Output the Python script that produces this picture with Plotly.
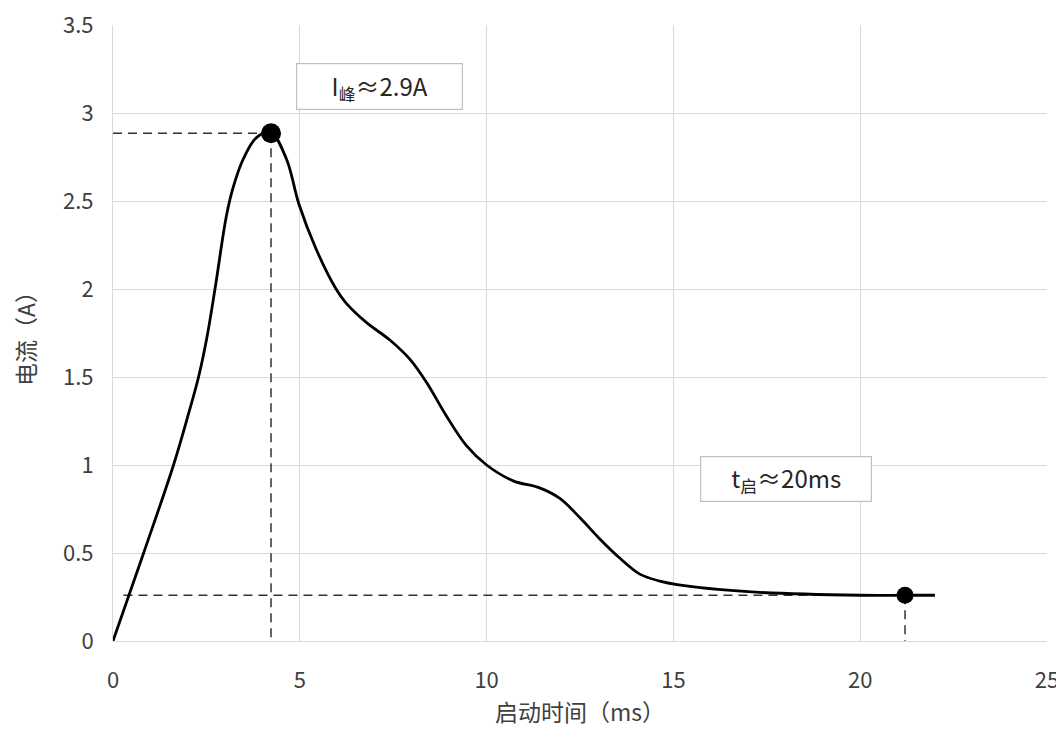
import plotly.graph_objects as go

# Data
time_ms = [0, 0.82, 1.62, 2.02, 2.29, 2.51, 2.73, 3.04, 3.22, 3.49, 3.84, 4.22,
           4.64, 4.98, 5.43, 5.97, 6.24, 6.78, 7.41, 7.95, 8.39, 8.92, 9.46, 10.0,
           10.71, 11.42, 11.96, 12.5, 13.03, 13.57, 14.1, 14.64, 15.1, 17.0, 20.0, 21.2, 22.0]
current_a = [0, 0.5, 1.0, 1.29, 1.5, 1.72, 2.0, 2.42, 2.58, 2.74, 2.86, 2.89,
             2.74, 2.48, 2.23, 2.0, 1.92, 1.81, 1.71, 1.60, 1.47, 1.28, 1.11, 1.0,
             0.91, 0.87, 0.81, 0.70, 0.58, 0.47, 0.38, 0.34, 0.32, 0.28, 0.26, 0.26, 0.26]

peak_t, peak_i = 4.23, 2.885
end_t, end_i = 21.2, 0.26
guide_start = 0.28

x_ticks = [0, 5, 10, 15, 20, 25]
y_ticks = [0, 0.5, 1, 1.5, 2, 2.5, 3, 3.5]
y_tick_text = ["0", "0.5", "1", "1.5", "2", "2.5", "3", "3.5"]

font_cjk = "Noto Sans CJK SC"

fig = go.Figure()

dash = dict(color="#333333", width=1.5, dash="9px,6px")
# guide lines
fig.add_trace(go.Scatter(x=[0, peak_t], y=[peak_i, peak_i], mode="lines", line=dash, hoverinfo="skip"))
fig.add_trace(go.Scatter(x=[peak_t, peak_t], y=[peak_i, 0], mode="lines", line=dash, hoverinfo="skip"))
fig.add_trace(go.Scatter(x=[guide_start, end_t], y=[end_i, end_i], mode="lines", line=dash, hoverinfo="skip"))
fig.add_trace(go.Scatter(x=[end_t, end_t], y=[end_i, 0], mode="lines", line=dash, hoverinfo="skip"))

# curve
fig.add_trace(go.Scatter(x=time_ms, y=current_a, mode="lines",
                         line=dict(color="black", width=2.8, shape="spline", smoothing=1.0)))

# markers
fig.add_trace(go.Scatter(x=[peak_t], y=[peak_i], mode="markers",
                         marker=dict(color="black", size=20)))
fig.add_trace(go.Scatter(x=[end_t], y=[end_i], mode="markers",
                         marker=dict(color="black", size=17)))

fig.add_annotation(x=7.13, y=3.15, text="I<sub>峰</sub>≈2.9A", showarrow=False,
                   font=dict(family=font_cjk, size=24, color="#262626"),
                   bordercolor="#bfbfbf", borderwidth=1.2, borderpad=7, bgcolor="white",
                   width=151, height=31)
fig.add_annotation(x=18.01, y=0.92, text="t<sub>启</sub>≈20ms", showarrow=False,
                   font=dict(family=font_cjk, size=24, color="#262626"),
                   bordercolor="#bfbfbf", borderwidth=1.2, borderpad=7, bgcolor="white",
                   width=156, height=30)

fig.update_layout(
    width=1056, height=743,
    margin=dict(l=105, r=17, t=17, b=110),
    plot_bgcolor="white", paper_bgcolor="white",
    showlegend=False,
    font=dict(family=font_cjk, color="#404040"),
    xaxis=dict(range=[0, 25], tickvals=x_ticks, showgrid=True, gridcolor="#d9d9d9",
               gridwidth=1, zeroline=False, showline=True, linecolor="#d9d9d9",
               mirror=False, ticks="", ticklabelstandoff=20, automargin=False,
               ticklabeloverflow="allow",
               tickfont=dict(size=22, color="#404040"),
               title=dict(text="启动时间（ms）", font=dict(size=23, color="#404040"), standoff=6)),
    yaxis=dict(range=[0, 3.5], tickvals=y_ticks, ticktext=y_tick_text, showgrid=True,
               gridcolor="#d9d9d9", gridwidth=1, zeroline=False, showline=True,
               linecolor="#d9d9d9", ticks="", ticklabelstandoff=14, automargin=False,
               ticklabeloverflow="allow",
               tickfont=dict(size=22, color="#404040"),
               title=dict(text="电流（A）", font=dict(size=23, color="#404040"), standoff=22)),
)

fig.write_html("out.html")
